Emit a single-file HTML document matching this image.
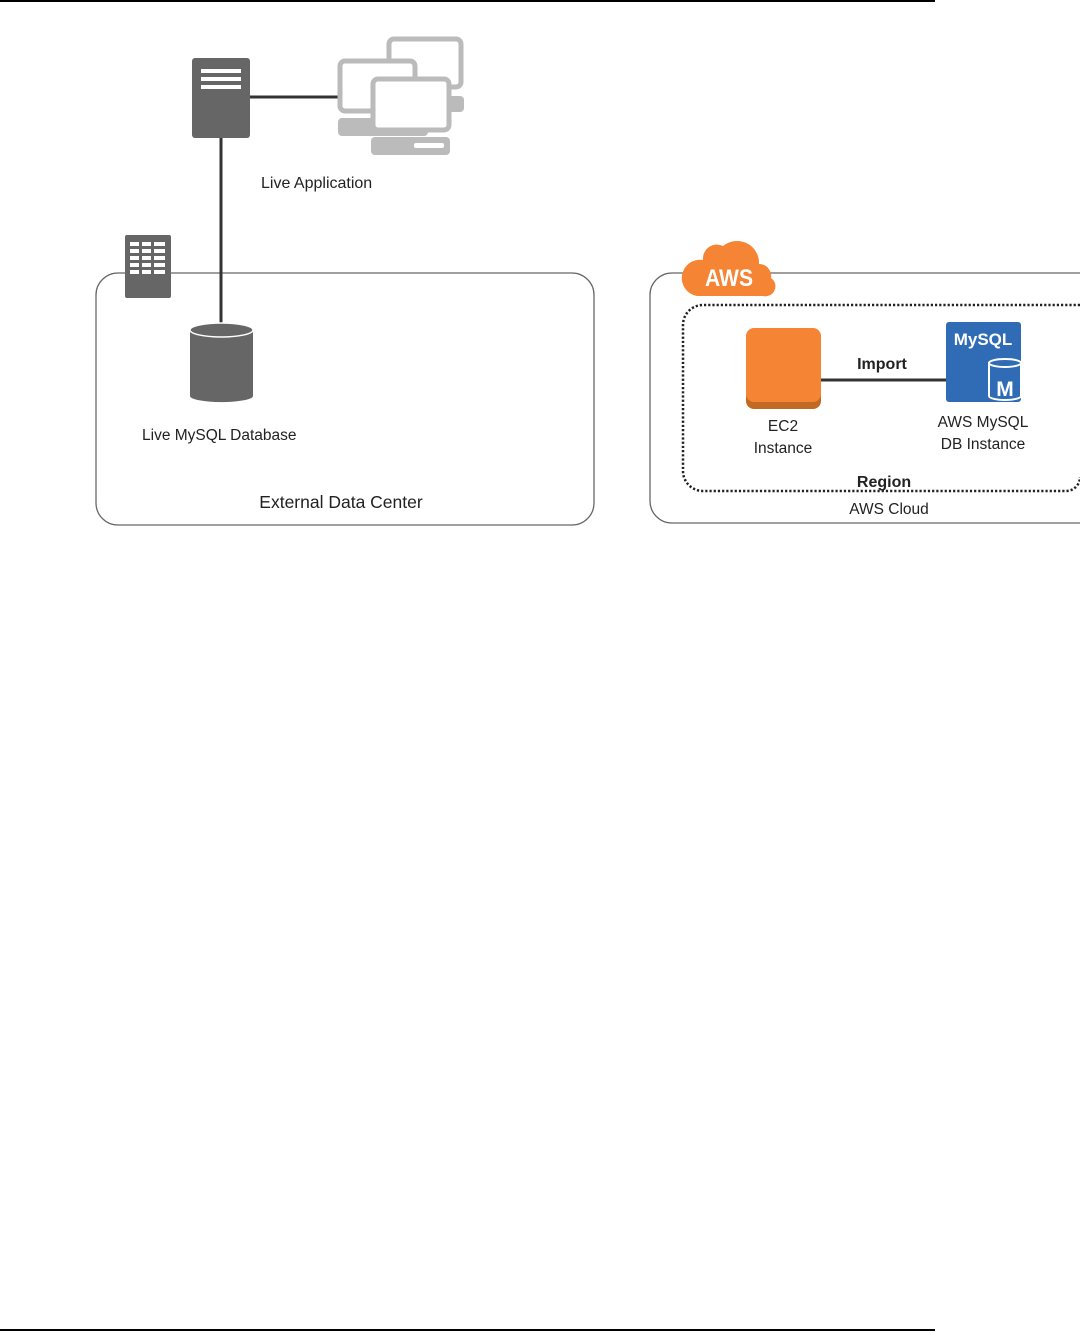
<!DOCTYPE html>
<html><head><meta charset="utf-8"><style>
html,body{margin:0;padding:0;background:#fff;}
svg{display:block;}
text{font-family:"Liberation Sans",sans-serif;fill:#222;}
</style></head><body>
<svg width="1080" height="1332" viewBox="0 0 1080 1332" xmlns="http://www.w3.org/2000/svg">
<line x1="0" y1="1" x2="935" y2="1" stroke="#000" stroke-width="2"/>
<line x1="0" y1="1330" x2="935" y2="1330" stroke="#000" stroke-width="2"/>

<!-- External data center box -->
<rect x="96" y="273" width="498" height="252" rx="22" fill="none" stroke="#666" stroke-width="1.3"/>
<!-- building icon -->
<rect x="125" y="235" width="46" height="63" rx="2" fill="#666"/>
<g fill="#fff">
<rect x="130" y="242" width="9" height="4"/><rect x="142" y="242" width="9" height="4"/><rect x="154" y="242" width="11" height="4"/>
<rect x="130" y="249" width="9" height="4"/><rect x="142" y="249" width="9" height="4"/><rect x="154" y="249" width="11" height="4"/>
<rect x="130" y="256" width="9" height="4"/><rect x="142" y="256" width="9" height="4"/><rect x="154" y="256" width="11" height="4"/>
<rect x="130" y="263" width="9" height="4"/><rect x="142" y="263" width="9" height="4"/><rect x="154" y="263" width="11" height="4"/>
<rect x="130" y="270" width="9" height="4"/><rect x="142" y="270" width="9" height="4"/><rect x="154" y="270" width="11" height="4"/>
</g>

<!-- connectors -->
<line x1="221" y1="130" x2="221" y2="330" stroke="#333" stroke-width="3"/>
<line x1="250" y1="97" x2="340" y2="97" stroke="#333" stroke-width="3"/>

<!-- server -->
<rect x="192" y="58" width="58" height="80" rx="3" fill="#666"/>
<rect x="201" y="69" width="40" height="4" fill="#fff"/>
<rect x="201" y="77" width="40" height="4" fill="#fff"/>
<rect x="201" y="85" width="40" height="4" fill="#fff"/>

<!-- computers -->
<g fill="#fff" stroke="#bbb" stroke-width="5">
<rect x="389" y="39" width="72" height="48" rx="5"/>
<rect x="340" y="61" width="75" height="50" rx="5"/>
</g>
<rect x="420" y="96" width="44" height="16" rx="4" fill="#bbb"/>
<rect x="338" y="118" width="90" height="18" rx="4" fill="#bbb"/>
<rect x="373" y="79" width="76" height="51" rx="5" fill="#fff" stroke="#bbb" stroke-width="5"/>
<rect x="371" y="137" width="79" height="18" rx="4" fill="#bbb"/>
<rect x="414" y="143" width="30" height="5" rx="2" fill="#fff"/>
<text x="261" y="188" font-size="16">Live Application</text>

<!-- database -->
<path d="M190 330 v66 a31 6 0 0 0 63 0 v-66 z" fill="#666"/>
<ellipse cx="221.5" cy="330" rx="31.5" ry="7" fill="#666" stroke="#fff" stroke-width="1.5"/>
<text x="142" y="440" font-size="15.5">Live MySQL Database</text>
<text x="341" y="508" font-size="17.5" text-anchor="middle">External Data Center</text>

<!-- AWS cloud box -->
<path d="M1080 273 H672 a22 22 0 0 0 -22 22 V501 a22 22 0 0 0 22 22 H1080" fill="none" stroke="#666" stroke-width="1.3"/>
<path d="M683 307 a19 19 0 0 0 0 0 M1080 305 H703 a20 20 0 0 0 -20 20 V471 a20 20 0 0 0 20 20 H1066 a14 14 0 0 0 14 -14" fill="none" stroke="#222" stroke-width="2.5" stroke-dasharray="2.2 2"/>
<!-- aws cloud logo -->
<path d="M697 296 h66 a10 10 0 0 0 8 -18 a12 12 0 0 0 -12 -14 a22 22 0 0 0 -36 -18 a14 14 0 0 0 -20 14 a15 15 0 0 0 -6 36 z" fill="#f58534"/>
<text x="729" y="286" font-size="24" font-weight="bold" text-anchor="middle" style="fill:#fff" textLength="48" lengthAdjust="spacingAndGlyphs">AWS</text>

<!-- EC2 -->
<rect x="746" y="331" width="75" height="78" rx="8" fill="#c26a24"/>
<rect x="746" y="328" width="75" height="74" rx="8" fill="#f58534"/>
<line x1="821" y1="380" x2="947" y2="380" stroke="#333" stroke-width="3"/>
<text x="882" y="369" font-size="16" font-weight="bold" text-anchor="middle">Import</text>
<text x="783" y="431" font-size="15.5" text-anchor="middle">EC2</text>
<text x="783" y="453" font-size="15.5" text-anchor="middle">Instance</text>

<!-- MySQL -->
<rect x="946" y="322" width="75" height="80" rx="3" fill="#2f6cb5"/>
<text x="983" y="345" font-size="17" font-weight="bold" text-anchor="middle" style="fill:#fff">MySQL</text>
<path d="M989 363 v33 a16 4 0 0 0 32 0 v-33 z" fill="#2f6cb5" stroke="#fff" stroke-width="2"/>
<ellipse cx="1005" cy="363" rx="16" ry="4" fill="#2f6cb5" stroke="#fff" stroke-width="2"/>
<text x="1005" y="396" font-size="21" font-weight="bold" text-anchor="middle" style="fill:#fff">M</text>
<text x="983" y="427" font-size="15.5" text-anchor="middle">AWS MySQL</text>
<text x="983" y="449" font-size="15.5" text-anchor="middle">DB Instance</text>

<text x="884" y="487" font-size="16" font-weight="bold" text-anchor="middle">Region</text>
<text x="889" y="514" font-size="15.5" text-anchor="middle">AWS Cloud</text>
</svg>
</body></html>
